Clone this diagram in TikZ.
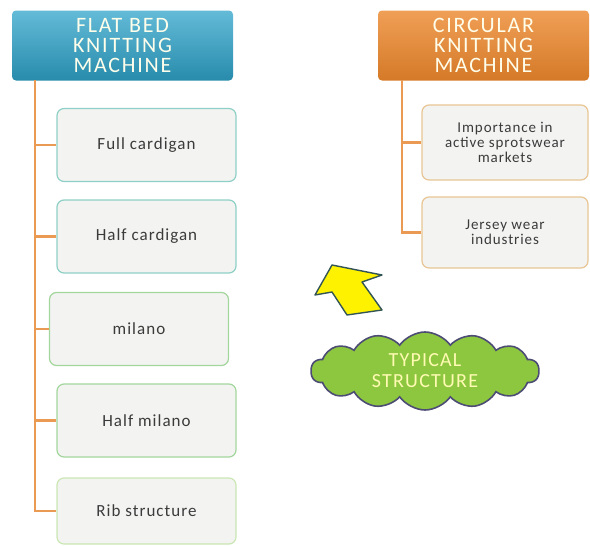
\documentclass[tikz,border=0pt]{standalone}
\usepackage{fontspec}
\setmainfont{Carlito}[LetterSpace=6]
\newfontfamily\headfont[LetterSpace=8]{Carlito}
\usetikzlibrary{positioning,shapes,shapes.symbols}
\definecolor{flatblue}{HTML}{2FA4CA}
\definecolor{circorange}{HTML}{EC872C}
\definecolor{trunk}{HTML}{EA9A52}
\definecolor{boxfill}{HTML}{F3F4F2}
\definecolor{tealline}{HTML}{8FD0C6}
\definecolor{greenline}{HTML}{A3D69C}
\definecolor{paleline}{HTML}{CBE7B4}
\definecolor{tanline}{HTML}{E8C592}
\definecolor{cloudgreen}{HTML}{8DC63F}
\definecolor{textgray}{HTML}{3B3B3B}

\begin{document}
\begin{tikzpicture}[x=1pt,y=-1pt,
head node/.style={rounded corners=4pt,minimum width=221pt,minimum height=70pt,align=center,text=white!92!yellow,font=\headfont\fontsize{22}{20}\selectfont},
item node/.style={draw,rounded corners=7pt,fill=boxfill,line width=1.2pt,minimum width=179pt,minimum height=73pt,align=center,text=textgray,font=\fontsize{17}{15}\selectfont},
link/.style={draw=trunk,line width=2.6pt}]
\useasboundingbox (0,0) rectangle (590,546);
%headers
\node[head node,top color=flatblue!75!white,bottom color=flatblue!85!black] (flat) at (122.5,45.5) {FLAT BED\\KNITTING\\MACHINE};
\node[head node,top color=circorange!80!white,bottom color=circorange!90!black,minimum width=211pt] (circ) at (483.5,45.5) {CIRCULAR\\KNITTING\\MACHINE};
\coordinate (ftrunk) at (35,80);
\coordinate (ctrunk) at (402,80);
\begin{scope}[every node/.style={item node}]
\node[draw=tealline] (full) at (146.5,145) {Full cardigan};
\node[draw=tealline] (halfcard) at (146.5,236.5) {Half cardigan};
\node[draw=greenline] (milano) at (139,329) {milano};
\node[draw=greenline] (halfmil) at (146.5,420.5) {Half milano};
\node[draw=paleline,minimum height=66pt] (rib) at (146.5,511) {Rib structure};
\node[draw=tanline,minimum width=166pt,minimum height=75pt,font=\fontsize{15}{15}\selectfont] (active) at (505,142.5) {Importance in\\active sprotswear\\markets};
\node[draw=tanline,minimum width=166pt,minimum height=71pt,font=\fontsize{15}{15}\selectfont] (jersey) at (505,232.5) {Jersey wear\\industries};
\end{scope}
\begin{scope}
\draw[link] (ftrunk) |- (full.west);
\draw[link] (ftrunk) |- (halfcard.west);
\draw[link] (ftrunk) |- (milano.west);
\draw[link] (ftrunk) |- (halfmil.west);
\draw[link] (ftrunk) |- (rib.west);
\draw[link,line width=2.2pt] (ctrunk) |- (active.west);
\draw[link,line width=2.2pt] (ctrunk) |- (jersey.west);
\end{scope}
%arrow and cloud
\draw[fill=yellow,draw=black!55!teal!60!gray,line width=1.4pt,line join=round] (332,265) -- (382,275) -- (362,282) -- (382,310) -- (347,315) -- (332,292) -- (315,295) -- cycle;
\node[cloud,cloud puffs=14,cloud puff arc=110,aspect=3,draw=black!60!blue!40!gray,line width=1.6pt,fill=cloudgreen,minimum width=228pt,minimum height=78pt,inner sep=0pt,align=center,text=yellow!30!white,font=\fontsize{20}{21}\selectfont] (typical) at (425,371) {TYPICAL\\STRUCTURE};
\end{tikzpicture}
\end{document}
